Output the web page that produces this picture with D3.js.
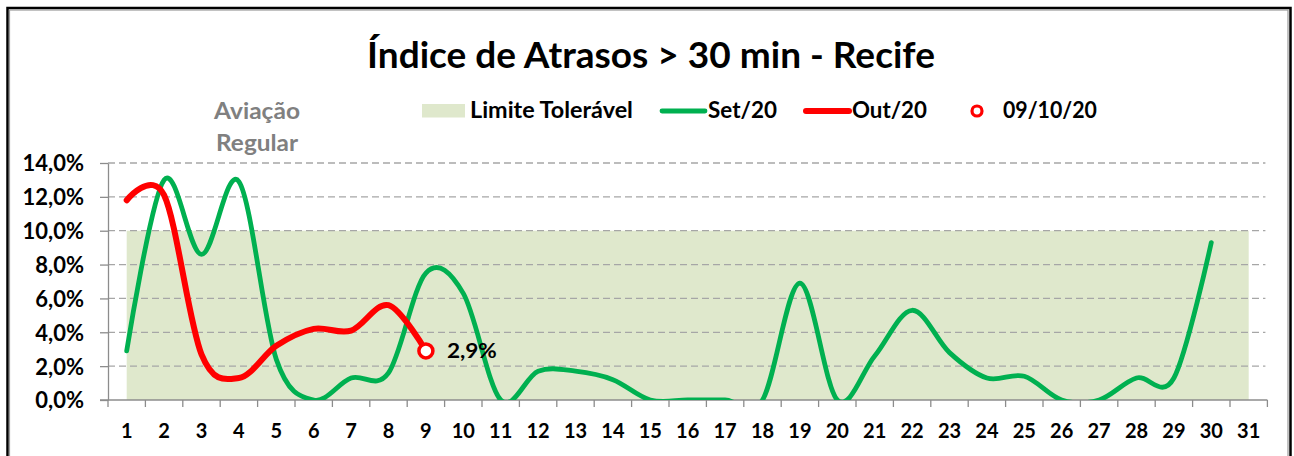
<!DOCTYPE html>
<html>
<head>
<meta charset="utf-8">
<script src="https://cdn.jsdelivr.net/npm/d3@7"></script>
<style>
  body { margin: 0; background: #fff; }
  svg text { font-family: Lato, "Open Sans", sans-serif; font-weight: bold; }
</style>
</head>
<body>
<svg id="chart" width="1294" height="456"></svg>
<script>
// dados
const dias = [1,2,3,4,5,6,7,8,9,10,11,12,13,14,15,16,17,18,19,20,21,22,23,24,25,26,27,28,29,30,31];
const set20 = [2.9,13.0,8.6,12.9,2.4,0,1.3,1.6,7.5,6.3,0,1.7,1.7,1.2,0,0,0,0,6.9,0,2.6,5.3,2.8,1.3,1.4,0,0,1.3,1.3,9.3,null];
const out20 = [11.8,12.1,2.7,1.3,3.2,4.2,4.1,5.6,2.9];
const limite = 10;
const yTicks = [0,2,4,6,8,10,12,14];
const destaque = { dia: 9, valor: 2.9, rotulo: "2,9%" };
const legenda = ["Limite Tolerável", "Set/20", "Out/20", "09/10/20"];

const svg = d3.select('#chart');

const pLeft = 108, pRight = 1267.4, pTop = 163, pBottom = 400;

const xb = d3.scaleBand().domain(dias).range([pLeft, pRight]).padding(0);
const x = d => xb(d) + xb.bandwidth() / 2;
const y = d3.scaleLinear().domain([0, 14]).range([pBottom, pTop]);

// moldura
svg.append('rect').attr('x', 7.5).attr('y', 8).attr('width', 1283).attr('height', 470)
  .attr('fill', 'none').attr('stroke', '#000').attr('stroke-width', 2.5);
svg.append('rect').attr('x', 9.5).attr('y', 10).attr('width', 1278.5).attr('height', 470)
  .attr('fill', 'none').attr('stroke', '#9a9a9a').attr('stroke-width', 1.2);

// texto com largura ajustada a do original
function texto(px, py, t, size, w, anchor, color) {
  const el = svg.append('text')
    .attr('text-anchor', anchor || 'start')
    .attr('font-size', size)
    .attr('fill', color || '#000')
    .text(t);
  const sx = w ? w / el.node().getComputedTextLength() : 1;
  el.attr('transform', `translate(${px},${py}) scale(${sx},1)`);
  return el;
}

// titulo
texto(651, 68, 'Índice de Atrasos > 30 min - Recife', 37, 568, 'middle');
texto(257, 119, 'Aviação', 22, 86, 'middle', '#808080');
texto(257, 151, 'Regular', 22, 82, 'middle', '#808080');

// area limite toleravel
svg.append('path')
  .datum(dias)
  .attr('fill', '#dfe8cc')
  .attr('d', d3.area().x(d => x(d)).y0(y(0)).y1(y(limite)));

// grade
svg.append('g').selectAll('line')
  .data(yTicks.filter(v => v > 0))
  .join('line')
  .attr('x1', pLeft).attr('x2', pRight - 2)
  .attr('y1', d => y(d)).attr('y2', d => y(d))
  .attr('stroke', '#a6a6a6').attr('stroke-width', 1.3)
  .attr('stroke-dasharray', '7,4');

// eixo y
const gy = svg.append('g').attr('transform', `translate(${pLeft},0)`)
  .call(d3.axisLeft(y).tickValues(yTicks).tickSize(8).tickSizeOuter(0)
    .tickFormat(d => d.toFixed(1).replace('.', ',') + '%'));
gy.select('.domain').attr('stroke', '#8c8c8c').attr('stroke-width', 1.3);
gy.selectAll('.tick line').attr('stroke', '#8c8c8c').attr('stroke-width', 1.3);
gy.selectAll('.tick text')
  .attr('x', -24).attr('dy', '0.36em')
  .attr('font-size', 22).attr('fill', '#000');

// eixo x
svg.append('line').attr('x1', pLeft - 8).attr('x2', pRight).attr('y1', pBottom).attr('y2', pBottom)
  .attr('stroke', '#8c8c8c').attr('stroke-width', 1.3);
svg.append('g').selectAll('line')
  .data(dias.map(d => xb(d)).concat([pRight]))
  .join('line')
  .attr('x1', d => d).attr('x2', d => d)
  .attr('y1', pBottom).attr('y2', pBottom + 7)
  .attr('stroke', '#8c8c8c').attr('stroke-width', 1.3);
svg.append('g').selectAll('text')
  .data(dias)
  .join('text')
  .attr('x', d => x(d)).attr('y', 438)
  .attr('text-anchor', 'middle')
  .attr('font-size', 20)
  .text(d => d);

// linhas
svg.append('clipPath').attr('id', 'plot')
  .append('rect').attr('x', pLeft).attr('y', pTop - 10).attr('width', pRight - pLeft).attr('height', pBottom - pTop + 10);

const line = d3.line()
  .defined(d => d[1] != null)
  .x(d => x(d[0])).y(d => y(d[1]))
  .curve(d3.curveCardinal);

const g = svg.append('g').attr('clip-path', 'url(#plot)');
g.append('path')
  .datum(dias.map((d, i) => [d, set20[i]]))
  .attr('fill', 'none').attr('stroke', '#00b050').attr('stroke-width', 4.8)
  .attr('stroke-linecap', 'round').attr('d', line);
g.append('path')
  .datum(out20.map((v, i) => [dias[i], v]))
  .attr('fill', 'none').attr('stroke', '#ff0000').attr('stroke-width', 6)
  .attr('stroke-linecap', 'round').attr('d', line);

svg.append('circle')
  .attr('cx', x(destaque.dia)).attr('cy', y(destaque.valor)).attr('r', 7)
  .attr('fill', '#fff').attr('stroke', '#ff0000').attr('stroke-width', 3.5);
texto(x(destaque.dia) + 21, y(destaque.valor) + 7.5, destaque.rotulo, 21, 50);

// legenda
const ly = 111, lb = 118;
svg.append('rect').attr('x', 422).attr('y', 104).attr('width', 43).attr('height', 13.5).attr('fill', '#dfe8cc');
texto(470, lb, legenda[0], 22, 163);
svg.append('line').attr('x1', 662).attr('x2', 705).attr('y1', ly).attr('y2', ly)
  .attr('stroke', '#00b050').attr('stroke-width', 4.8).attr('stroke-linecap', 'round');
texto(708, lb, legenda[1], 22, 69);
svg.append('line').attr('x1', 806).attr('x2', 849).attr('y1', ly).attr('y2', ly)
  .attr('stroke', '#ff0000').attr('stroke-width', 6).attr('stroke-linecap', 'round');
texto(852, lb, legenda[2], 22, 75);
svg.append('circle').attr('cx', 977).attr('cy', ly).attr('r', 5)
  .attr('fill', '#fff').attr('stroke', '#ff0000').attr('stroke-width', 3.2);
texto(1003, lb, legenda[3], 22, 94);
</script>
</body>
</html>
